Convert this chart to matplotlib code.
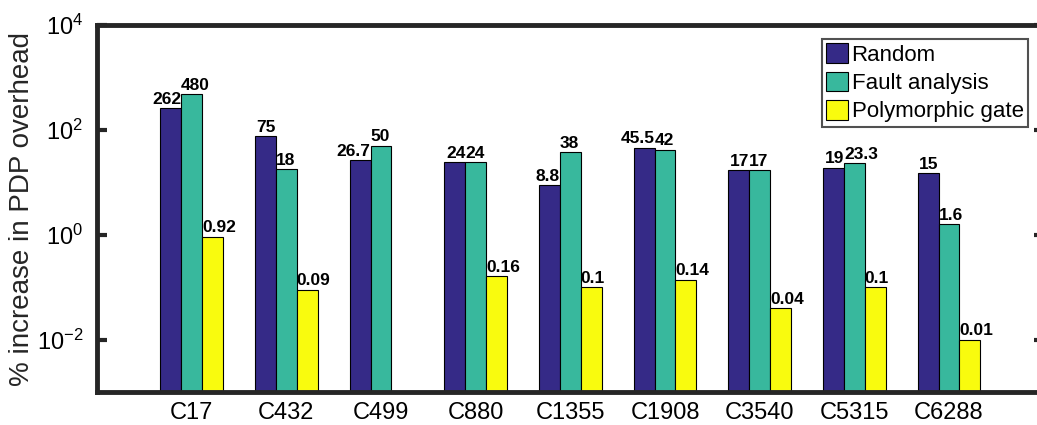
import matplotlib
matplotlib.use("Agg")
import matplotlib.pyplot as plt
import numpy as np

plt.rcParams['font.family'] = ['Liberation Sans', 'DejaVu Sans']
plt.rcParams['mathtext.fontset'] = 'custom'
plt.rcParams['mathtext.rm'] = 'Liberation Sans'
plt.rcParams['mathtext.it'] = 'Liberation Sans'

circuits = ['C17', 'C432', 'C499', 'C880', 'C1355', 'C1908', 'C3540', 'C5315', 'C6288']
series = ['Random', 'Fault analysis', 'Polymorphic gate']
random_vals = [262, 75, 26.7, 24, 8.8, 45.5, 17, 19, 15]
fault_vals = [480, 18, 50, 24, 38, 42, 17, 23.3, 1.6]
poly_vals = [0.92, 0.09, 0, 0.16, 0.1, 0.14, 0.04, 0.1, 0.01]
random_lbl = ['262', '75', '26.7', '24', '8.8', '45.5', '17', '19', '15']
fault_lbl = ['480', '18', '50', '24', '38', '42', '17', '23.3', '1.6']
poly_lbl = ['0.92', '0.09', '', '0.16', '0.1', '0.14', '0.04', '0.1', '0.01']

colors = ['#352a87', '#38b89d', '#f9fb0e']
spine_col = '#262626'

fig = plt.figure(figsize=(10.37, 4.25), dpi=100)
ax = fig.add_axes([0.0935, 0.0776, 0.913, 0.8635])

x = np.arange(1, len(circuits) + 1)
w = 0.22
data = [random_vals, fault_vals, poly_vals]
lbls = [random_lbl, fault_lbl, poly_lbl]
for k in range(3):
    xs = x + (k - 1) * w
    vals = np.array(data[k], dtype=float)
    ax.bar(xs, np.where(vals > 0, vals, 1e-6), width=w, color=colors[k],
           edgecolor='black', linewidth=0.8, label=series[k])
    for xi, v, t in zip(xs, vals, lbls[k]):
        if v <= 0 or not t:
            continue
        if k == 0:
            ax.annotate(t, (xi + w / 2, v), xytext=(0, 1), textcoords='offset points',
                        ha='right', va='bottom', fontsize=12.5, fontweight='bold')
        else:
            ax.annotate(t, (xi - w / 2, v), xytext=(0, 1), textcoords='offset points',
                        ha='left', va='bottom', fontsize=12.5, fontweight='bold')

ax.set_yscale('log')
ax.set_ylim(1e-3, 1e4)
ax.set_xlim(0, 10)
ax.set_yticks([1e-2, 1, 1e2, 1e4])
ax.set_yticklabels([r'$10^{-2}$', r'$10^{0}$', r'$10^{2}$', r'$10^{4}$'])
ax.yaxis.set_minor_locator(matplotlib.ticker.NullLocator())
ax.set_xticks(x)
ax.set_xticklabels(circuits)

for s in ax.spines.values():
    s.set_linewidth(3.5)
    s.set_color(spine_col)
ax.tick_params(axis='both', direction='in', length=7, width=3, color=spine_col,
               top=True, right=True, labelsize=17)
ax.tick_params(axis='y', pad=10)
ax.tick_params(axis='x', pad=7, length=0)
ax.tick_params(axis='x', which='major', top=True, bottom=False)

ax.set_ylabel('% increase in PDP overhead', fontsize=20, labelpad=1, color='#262626')

leg = ax.legend(loc='upper right', bbox_to_anchor=(1028 / 1037, 1 - 39 / 425),
                bbox_transform=fig.transFigure, fontsize=16, frameon=True,
                fancybox=False, edgecolor='#262626', borderaxespad=0,
                handlelength=1.0, handleheight=1.0, handletextpad=0.15,
                labelspacing=0.25, borderpad=0.2)
leg.get_frame().set_linewidth(1.5)

fig.savefig('out.png', dpi=100)
